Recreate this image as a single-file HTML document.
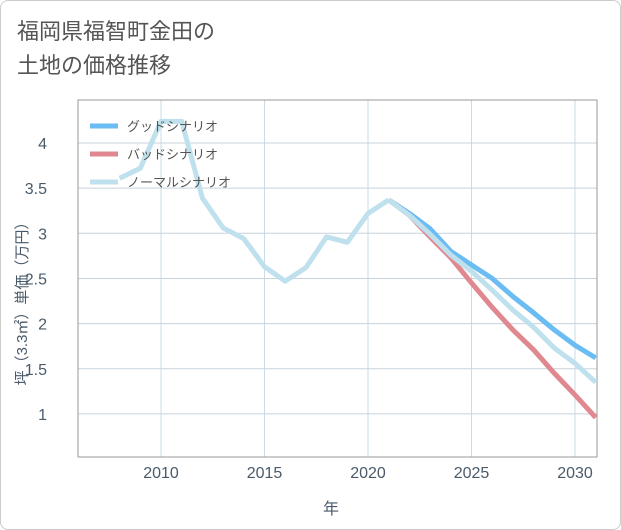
<!DOCTYPE html>
<html><head><meta charset="utf-8"><style>
body{margin:0;background:#fff;}
#wrap{position:relative;width:619px;height:528px;border:1px solid #ccc;border-radius:8px;background:#fff;font-family:"Liberation Sans","Noto Sans CJK JP",sans-serif;overflow:hidden}
#title{position:absolute;left:16px;top:14px;font-size:22px;line-height:34px;color:#555}
</style></head><body>
<div id="wrap">
<div id="title">福岡県福智町金田の<br>土地の価格推移</div>
<svg id="svg" width="621" height="530" style="position:absolute;left:-1px;top:-1px"></svg>
</div>
<script>
const years=[2008,2009,2010,2011,2012,2013,2014,2015,2016,2017,2018,2019,2020,2021];
const pastValues=[3.61,3.72,4.24,4.24,3.39,3.06,2.94,2.63,2.47,2.62,2.96,2.90,3.22,3.37];
const futureYears=[2021,2022,2023,2024,2025,2026,2027,2028,2029,2030,2031];
const goodValues=[3.37,3.22,3.05,2.80,2.65,2.50,2.30,2.12,1.93,1.76,1.62];
const badValues=[3.37,3.20,2.96,2.73,2.45,2.18,1.93,1.71,1.45,1.21,0.96];
const normalValues=[3.37,3.20,2.99,2.76,2.58,2.37,2.15,1.96,1.73,1.56,1.35];
const xTicks=[2010,2015,2020,2025,2030];
const yTicks=[1,1.5,2,2.5,3,3.5,4];
const yTickLabels=["1","1.5","2","2.5","3","3.5","4"];

const L=78,R=597,T=100,B=457;
const x=v=>161+(v-2010)*20.7;
const y=v=>143-(v-4)*90.3;
const svg=document.getElementById('svg');
const NS='http://www.w3.org/2000/svg';
function mk(tag,attrs,parent){const e=document.createElementNS(NS,tag);for(const k in attrs)e.setAttribute(k,attrs[k]);(parent||svg).appendChild(e);return e;}

xTicks.forEach(t=>{
  const l=mk('line',{x1:x(t),x2:x(t),y1:T,y2:B,stroke:'#c8dbe6','stroke-width':1});
  
  
  const tx=mk('text',{x:x(t),y:478,'text-anchor':'middle','font-size':16,fill:'#4a5a6a'});
  tx.textContent=t;
  
  
});
yTicks.forEach((t,i)=>{
  const l=mk('line',{x1:L,x2:R,y1:y(t),y2:y(t),stroke:'#c8d3dc','stroke-width':1});
  
  
  const tx=mk('text',{x:47,y:y(t)+6,'text-anchor':'end','font-size':16,fill:'#4a5a6a'});
  tx.textContent=yTickLabels[i];
  
  
});
const border=mk('rect',{x:L,y:T,width:R-L,height:B-T,fill:'none',stroke:'#999','stroke-width':1});



const clip=mk('clipPath',{id:'c'});mk('rect',{x:L,y:T,width:R-L,height:B-T},clip);
function line(xs,vs,color,name){
  const p=mk('polyline',{points:xs.map((t,i)=>x(t)+','+y(vs[i])).join(' '),fill:'none',stroke:color,'stroke-width':5,'stroke-linejoin':'round','clip-path':'url(#c)'});
  
  
}
line(futureYears,goodValues,'#6bbcf2','good-scenario-line');
line(futureYears,badValues,'#e08890','bad-scenario-line');
line(futureYears,normalValues,'#bfe0ed','normal-scenario-line');
line(years,pastValues,'#bfe0ed','historical-line');

const legend=[['グッドシナリオ','#6bbcf2','legend-good'],['バッドシナリオ','#e08890','legend-bad'],['ノーマルシナリオ','#bfe0ed','legend-normal']];
legend.forEach((d,i)=>{
  const g=mk('g',{});
  
  
  const yy=126+i*28;
  mk('line',{x1:90,x2:118,y1:yy,y2:yy,stroke:d[1],'stroke-width':5},g);
  const t=mk('text',{x:127,y:yy+5,'font-size':13,fill:'#555'},g);t.textContent=d[0];
});
const yt=mk('text',{transform:'translate(27,300) rotate(-90)','text-anchor':'middle','font-size':15,fill:'#4a5a6a'});
yt.textContent='坪（3.3㎡）単価（万円）';


const xt=mk('text',{x:331,y:514,'text-anchor':'middle','font-size':16,fill:'#4a5a6a'});
xt.textContent='年';


</script>
</body></html>
